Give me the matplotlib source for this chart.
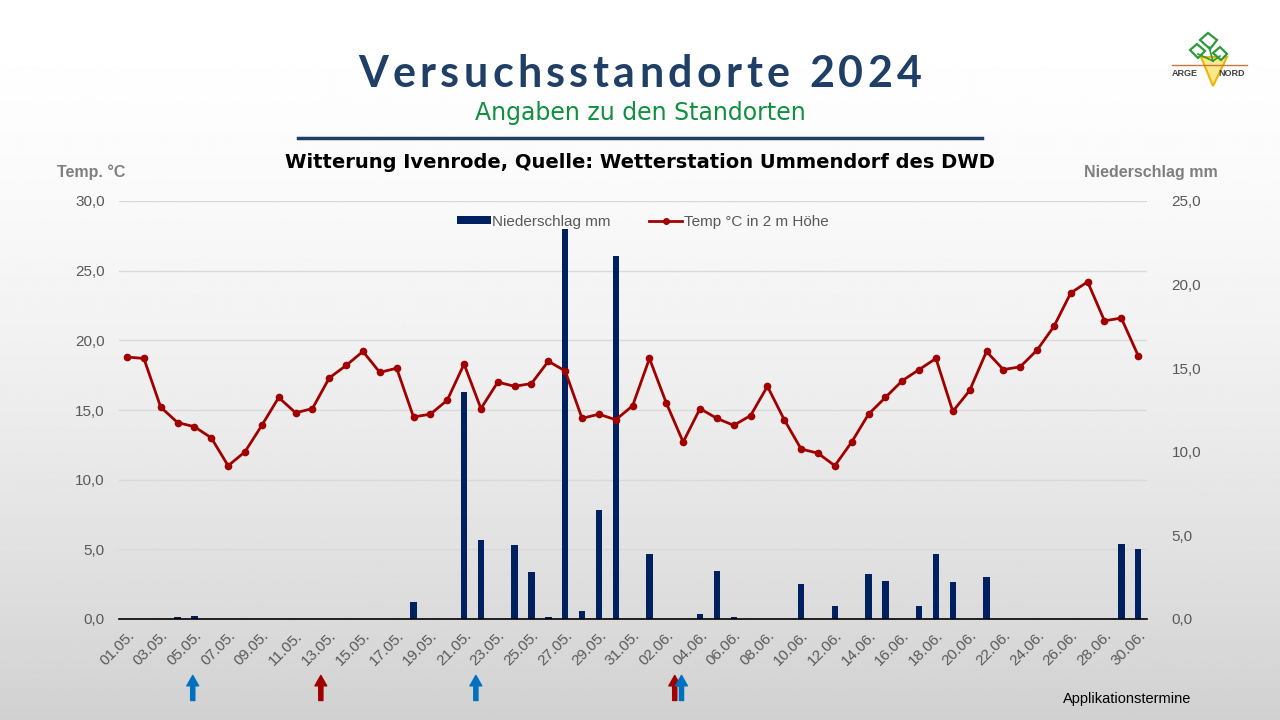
import numpy as np
import pandas as pd
import matplotlib
matplotlib.use('Agg')
import matplotlib.pyplot as plt
from matplotlib.lines import Line2D
from matplotlib.patches import Patch, Polygon
from matplotlib.ticker import FuncFormatter

# --- data ---
dates = pd.date_range('2024-05-01', '2024-06-30').strftime('%d.%m.').tolist()

temp_c = [18.8, 18.7, 15.2, 14.1, 13.8, 13.0, 11.0, 12.0, 13.9, 15.9,
          14.8, 15.1, 17.3, 18.2, 19.2, 17.7, 18.0, 14.5, 14.7, 15.7,
          18.3, 15.1, 17.0, 16.7, 16.9, 18.5, 17.8, 14.4, 14.7, 14.3,
          15.3, 18.7, 15.5, 12.7, 15.1, 14.4, 13.9, 14.6, 16.7, 14.3,
          12.2, 11.9, 11.0, 12.7, 14.7, 15.9, 17.1, 17.9, 18.7, 14.9,
          16.4, 19.2, 17.9, 18.1, 19.3, 21.0, 23.4, 24.2, 21.4, 21.6,
          18.9]

rain_mm = [0.0, 0.0, 0.0, 0.1, 0.2, 0.0, 0.0, 0.0, 0.0, 0.0,
           0.0, 0.0, 0.0, 0.0, 0.0, 0.0, 0.0, 1.0, 0.0, 0.0,
           13.6, 4.7, 0.0, 4.4, 2.8, 0.1, 23.3, 0.5, 6.5, 21.7,
           0.0, 3.9, 0.0, 0.0, 0.3, 2.9, 0.1, 0.0, 0.0, 0.0,
           2.1, 0.0, 0.8, 0.0, 2.7, 2.3, 0.0, 0.8, 3.9, 2.2,
           0.0, 2.5, 0.0, 0.0, 0.0, 0.0, 0.0, 0.0, 0.0, 4.5,
           4.2]

# application dates (day index, fractional as drawn) and colours
app_pos = [3.9, 11.5, 20.7, 32.5, 32.9]
app_col = ['#0070C0', '#A00000', '#0070C0', '#A00000', '#0070C0']

NAVY = '#002060'
RED = '#A00000'
GREY = '#595959'
TITLE_BLUE = '#1F3F66'

plt.rcParams['font.family'] = ['Liberation Sans', 'DejaVu Sans']

fig = plt.figure(figsize=(12.8, 7.2), dpi=100)
renderer = fig.canvas.get_renderer()

# background gradient (white top -> light grey bottom)
bg = fig.add_axes([0, 0, 1, 1], zorder=-10)
t = np.linspace(0, 1, 400)
shade = 1 - 0.18 * t ** 1.6
bg.imshow(np.repeat(shade[:, None], 2, axis=1), cmap='gray', vmin=0, vmax=1,
          aspect='auto', extent=[0, 1, 0, 1])
bg.set_axis_off()


def spaced_text(s, xc, y, width_px, **kw):
    """Letter-spaced text, centred at xc, stretched to width_px."""
    def w(txt):
        tt = fig.text(0, 0, txt, **kw)
        out = tt.get_window_extent(renderer).width
        tt.remove()
        return out
    bar = w('|')
    natural = w(s)
    gap = max((width_px - natural) / (len(s) - 1), 0)
    x0 = xc - (natural + gap * (len(s) - 1)) / 2
    for i, ch in enumerate(s):
        if ch == ' ':
            continue
        off = w(s[:i] + '|') - bar if i else 0
        fig.text((x0 + off + i * gap) / 1280, y, ch, ha='left', va='baseline', **kw)


# headings
spaced_text('Versuchsstandorte 2024', 640, 1 - 87 / 720, 564,
            fontsize=31, fontweight='bold', color=TITLE_BLUE, family='Lato')
fig.text(0.5, 1 - 113 / 720, 'Angaben zu den Standorten', ha='center', va='center',
         fontsize=17, color='#109040', family='DejaVu Sans')
fig.add_artist(Line2D([298 / 1280, 982 / 1280], [1 - 138 / 720] * 2,
                      color=TITLE_BLUE, lw=2.5))
fig.text(0.5, 1 - 162 / 720,
         'Witterung Ivenrode, Quelle: Wetterstation Ummendorf des DWD',
         ha='center', va='center', fontsize=14, fontweight='bold', color='black',
         family='DejaVu Sans')
fig.text(57 / 1280, 1 - 172 / 720, 'Temp. °C', ha='left', va='center',
         fontsize=11.5, fontweight='bold', color='#7F7F7F')
fig.text(1218 / 1280, 1 - 172 / 720, 'Niederschlag mm', ha='right', va='center',
         fontsize=11.5, fontweight='bold', color='#7F7F7F')

# --- chart ---
ax = fig.add_axes([118.6 / 1280, 1 - 619 / 720, 1028 / 1280, 418 / 720])
ax2 = ax.twinx()
x = np.arange(len(dates))

# bars on the right axis, line on the left axis (drawn on top)
ax.set_zorder(ax2.get_zorder() + 1)
ax.patch.set_visible(False)

ax2.bar(x, rain_mm, width=0.38, color=NAVY, zorder=2)
ax.plot(x, temp_c, color=RED, lw=2.0, marker='o', markersize=4.5, zorder=3)

ax.set_xlim(-0.5, len(dates) - 0.5)
ax.set_ylim(0, 30)
ax2.set_ylim(0, 25)
ax.set_yticks(np.arange(0, 31, 5))
ax2.set_yticks(np.arange(0, 26, 5))

# gridlines at the left-axis ticks, drawn behind the bars
for v in ax.get_yticks()[1:]:
    ax2.plot([0, 1], [v, v], transform=ax.get_yaxis_transform(),
             color='#D9D9D9', lw=1, zorder=0)

comma = FuncFormatter(lambda v, p: f'{v:.1f}'.replace('.', ','))
ax.yaxis.set_major_formatter(comma)
ax2.yaxis.set_major_formatter(comma)

ax.set_xticks(x[::2])
ax.set_xticklabels(dates[::2], rotation=45, ha='right', va='top',
                   rotation_mode='anchor')
ax.tick_params(axis='x', length=0, pad=7, labelsize=11, labelcolor=GREY)
ax.tick_params(axis='y', length=0, pad=10, labelsize=11, labelcolor=GREY)
ax2.tick_params(axis='y', length=0, pad=18, labelsize=11, labelcolor=GREY)
ax2.tick_params(axis='x', length=0)

for a in (ax, ax2):
    for side in ('left', 'right', 'top', 'bottom'):
        a.spines[side].set_visible(False)
ax2.spines['bottom'].set_visible(True)
ax2.spines['bottom'].set_color('black')
ax2.spines['bottom'].set_linewidth(1.2)

handles = [Patch(facecolor=NAVY, edgecolor='none'),
           Line2D([], [], color=RED, lw=2, marker='o', markersize=4)]
ax.legend(handles, ['Niederschlag mm', 'Temp °C in 2 m Höhe'],
          loc='upper center', bbox_to_anchor=(0.51, 1.0), ncol=2,
          frameon=False, fontsize=11, labelcolor=GREY, handlelength=2.2,
          handleheight=0.4, handletextpad=0.1, columnspacing=2.5)

# application arrows below the axis
for pos, col in zip(app_pos, app_col):
    ax.annotate('', xy=(pos, -0.135), xytext=(pos, -0.195),
                xycoords=ax.get_xaxis_transform(), annotation_clip=False,
                arrowprops=dict(arrowstyle='simple,head_length=0.75,head_width=0.85,tail_width=0.3',
                                color=col, mutation_scale=10, shrinkA=0, shrinkB=0))
fig.text(1127 / 1280, 1 - 699 / 720, 'Applikationstermine', ha='center',
         va='center', fontsize=10.5, color='black')

# --- logo (simplified) ---
lg = fig.add_axes([1165 / 1280, 1 - 95 / 720, 90 / 1280, 65 / 720])
lg.set_xlim(0, 90)
lg.set_ylim(0, 65)
lg.set_axis_off()
lg.plot([7, 82], [30.5, 30.5], color='#C8783C', lw=1)
for sx, sy in ((33, 41), (44, 48), (55, 39)):
    lg.plot([sx, 48], [sy, 34], color='#2E9A3A', lw=1.2)
lg.add_patch(Polygon([(36, 38), (62, 38), (48, 9)], closed=True,
                     facecolor='#FBE88A', edgecolor='#F0B400', lw=1.5))
for pts in ([(25, 45), (32, 51), (40, 44), (33, 37)],
            [(35, 55), (43, 62), (52, 55), (45, 46)],
            [(48, 42), (55, 48), (62, 41), (56, 35)]):
    lg.add_patch(Polygon(pts, closed=True, facecolor='white',
                         edgecolor='#2E9A3A', lw=1.6))
lg.text(20, 21, 'ARGE', ha='center', va='center', fontsize=6.5,
        fontweight='bold', color='#404040')
lg.text(67, 21, 'NORD', ha='center', va='center', fontsize=6.5,
        fontweight='bold', color='#404040')

fig.savefig('out.png', dpi=100)
